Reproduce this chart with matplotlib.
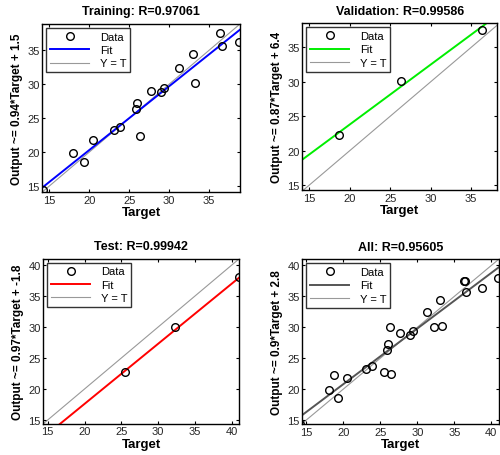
import matplotlib
matplotlib.use("Agg")
import matplotlib.pyplot as plt
import numpy as np

plt.rcParams['font.family'] = ['Liberation Sans', 'DejaVu Sans']

# ---- data ----
train_t = [14.2, 18.0, 19.3, 20.5, 23.1, 23.9, 25.9, 26.0, 26.4, 27.7, 29.0, 29.4, 31.3, 33.0, 33.3, 36.4, 36.6, 38.8]
train_o = [14.4, 19.8, 18.6, 21.8, 23.2, 23.7, 26.3, 27.3, 22.4, 29.0, 28.8, 29.4, 32.4, 34.4, 30.2, 37.5, 35.7, 36.3]
val_t = [18.7, 26.3, 36.3]
val_o = [22.3, 30.1, 37.5]
test_t = [25.5, 32.3, 40.9]
test_o = [22.8, 30.0, 38.0]
all_t = train_t + val_t + test_t
all_o = train_o + val_o + test_o

titles = ["Training: R=0.97061", "Validation: R=0.99586", "Test: R=0.99942", "All: R=0.95605"]
slopes = [0.94, 0.87, 0.97, 0.9]
offsets = [1.5, 6.4, -1.8, 2.8]
ylabels = ["Output ~= 0.94*Target + 1.5", "Output ~= 0.87*Target + 6.4",
           "Output ~= 0.97*Target + -1.8", "Output ~= 0.9*Target + 2.8"]
fit_colors = ["#0000ff", "#00ee00", "#ff0000", "#555555"]
xlims = [(14.1, 38.9), (14.15, 38.2), (14.4, 41.0), (14.45, 41.0)]
ylims = [(14.1, 38.9), (14.3, 38.5), (14.4, 41.0), (14.3, 41.0)]
ticks = [[15, 20, 25, 30, 35], [15, 20, 25, 30, 35], [15, 20, 25, 30, 35, 40], [15, 20, 25, 30, 35, 40]]
datasets = [(train_t, train_o), (val_t, val_o), (test_t, test_o), (all_t, all_o)]

# axes boxes in pixels: left, right, top, bottom
boxes = [(42.3, 240, 25, 193), (302.3, 497, 24.3, 191),
         (43.3, 239.3, 259.7, 424.7), (302.3, 498.7, 260.3, 425.3)]

W, H = 500, 456
fig = plt.figure(figsize=(W / 100, H / 100), dpi=100)
fig.patch.set_facecolor('white')

for i in range(4):
    l, r, t, b = boxes[i]
    ax = fig.add_axes([l / W, 1 - b / H, (r - l) / W, (b - t) / H])
    t_arr, o_arr = datasets[i]
    xl = xlims[i]
    xs = np.array([min(xl[0], ylims[i][0]), max(xl[1], ylims[i][1])])
    ax.plot(t_arr, o_arr, linestyle='none', marker='o', markersize=5.5,
            markerfacecolor='none', markeredgecolor='black', markeredgewidth=1.0, label='Data', zorder=3)
    ax.plot(xs, slopes[i] * xs + offsets[i], color=fit_colors[i], lw=1.4, label='Fit', zorder=2)
    ax.plot(xs, xs, color='#999999', lw=0.8, label='Y = T', zorder=1)
    ax.set_xlim(*xl)
    ax.set_ylim(*ylims[i])
    ax.set_xticks(ticks[i])
    ax.set_yticks(ticks[i])
    ax.tick_params(direction='in', top=True, right=True, length=2.5, width=0.8,
                   labelsize=8, labelcolor='#262626', pad=2)
    for s in ax.spines.values():
        s.set_linewidth(1.0)
        s.set_color('black')
    ax.set_title(titles[i], fontsize=9, fontweight='bold', pad=7)
    ax.set_xlabel('Target', fontsize=9.5, fontweight='bold', labelpad=1)
    ax.set_ylabel(ylabels[i], fontsize=8.5, fontweight='bold', labelpad=3)
    leg = ax.legend(loc='upper left', fontsize=8, frameon=True, fancybox=False,
                    handlelength=3.5, borderaxespad=0.35, borderpad=0.35,
                    labelspacing=0.3, handletextpad=1.0)
    leg.get_frame().set_edgecolor('black')
    leg.get_frame().set_linewidth(1.0)

fig.savefig('out.png', dpi=100)
